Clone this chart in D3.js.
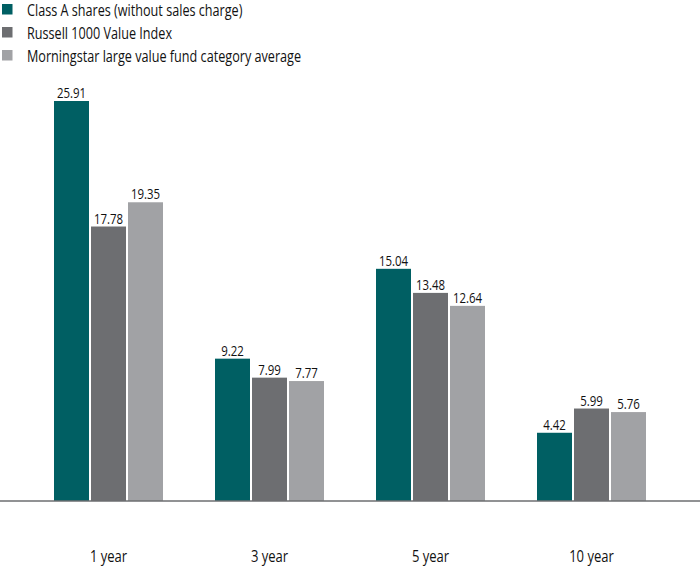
<!DOCTYPE html>
<html><head><meta charset="utf-8">
<script src="https://cdn.jsdelivr.net/npm/d3@7"></script>
<style>body{margin:0;background:#fff}svg{display:block;font-family:"Open Sans","Noto Sans",sans-serif}</style>
</head><body><svg id="c" width="700" height="566"></svg>
<script>
const categories = ["1 year", "3 year", "5 year", "10 year"];
const seriesNames = ["Class A shares (without sales charge)", "Russell 1000 Value Index", "Morningstar large value fund category average"];
const classA = [25.91, 9.22, 15.04, 4.42];
const russell = [17.78, 7.99, 13.48, 5.99];
const morningstar = [19.35, 7.77, 12.64, 5.76];
const colors = ["#005f63", "#6d6e71", "#a1a2a5"];

const series = [classA, russell, morningstar];
const sx = 0.79;
const svg = d3.select("#c");
const baseY = 501;
const y = d3.scaleLinear().domain([0, 25.91]).range([baseY, 101]);
const x0 = d3.scaleBand().domain(categories).range([28, 672]).padding(0);
const x1 = d3.scaleBand().domain(d3.range(3)).range([26, 135]).paddingInner(2/37).paddingOuter(0);

const g = svg.append("g");
categories.forEach((c, i) => {
  const grp = g.append("g").attr("transform", `translate(${x0(c)},0)`);
  series.forEach((s, j) => {
    grp.append("rect")
      .attr("x", x1(j)).attr("width", x1.bandwidth())
      .attr("y", y(s[i])).attr("height", baseY - y(s[i]))
      .attr("fill", colors[j]);
    grp.append("text")
      .attr("transform", `translate(${x1(j) + x1.bandwidth() / 2},${y(s[i]) - 3}) scale(${sx},1)`)
      .attr("text-anchor", "middle").attr("font-size", 14.5).attr("fill", "#111")
      .text(s[i].toFixed(2));
  });
});

svg.append("line").attr("x1", 0).attr("x2", 700).attr("y1", baseY).attr("y2", baseY)
  .attr("stroke", "#6d6e71").attr("stroke-width", 1.5);

const xAxis = d3.axisBottom(x0).tickSize(0).tickPadding(0);
const ax = svg.append("g").attr("transform", `translate(0,${baseY})`).call(xAxis);
ax.attr("font-family", null).attr("font-size", null);
ax.select(".domain").remove();
ax.selectAll("text").attr("font-size", 16.5).attr("fill", "#111").attr("dy", null).attr("y", null)
  .attr("transform", `translate(0,61) scale(${sx},1)`);

const leg = svg.append("g");
seriesNames.forEach((n, j) => {
  leg.append("rect").attr("x", 2).attr("y", 4 + j * 23).attr("width", 10.5).attr("height", 10.5).attr("fill", colors[j]);
  leg.append("text").attr("transform", `translate(27,${15.5 + j * 23}) scale(${sx},1)`)
    .attr("font-size", 16).attr("fill", "#111").text(n);
});
</script></body></html>
